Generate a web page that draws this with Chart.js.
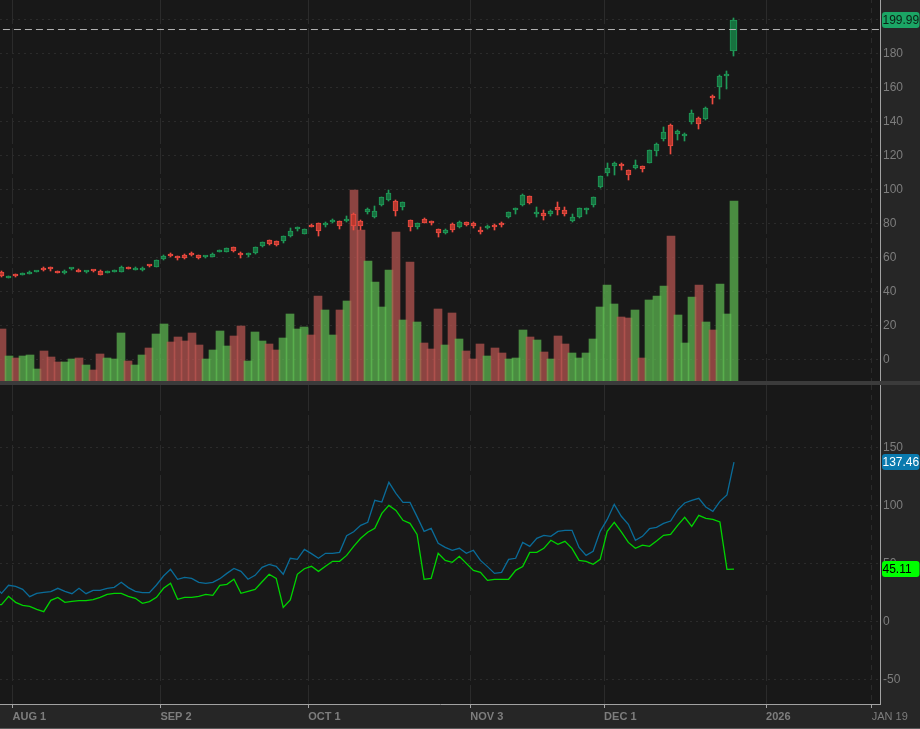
<!DOCTYPE html>
<html>
<head>
<meta charset="utf-8">
<title>Chart</title>
<style>
  html, body { margin: 0; padding: 0; background: #181818; overflow: hidden; }
  #wrap { position: relative; width: 920px; height: 729px; }
  canvas { position: absolute; left: 0; }
  #precio { top: 0; }
  #indicador { top: 385px; }
  .panel { position: absolute; background: #262626; }
  #panelDerecho { left: 880px; top: 0; width: 40px; height: 729px; }
  #panelFechas { left: 0; top: 705px; width: 920px; height: 23px; }
  #finFechas { position: absolute; left: 0; top: 728px; width: 920px; height: 1px; background: #5a5a5a; }
  #separador { position: absolute; left: 0; top: 381px; width: 920px; height: 4px; background: #3b3b3b; }
</style>
<script src="https://cdn.jsdelivr.net/npm/chart.js@4/dist/chart.umd.min.js"></script>
</head>
<body>
<div id="wrap">
  <div class="panel" id="panelDerecho"></div>
  <div class="panel" id="panelFechas"></div>
  <div id="finFechas"></div>
  <canvas id="precio" width="920" height="381"></canvas>
  <div id="separador"></div>
  <canvas id="indicador" width="920" height="344"></canvas>
</div>
<script>
// Sessions are counted from AUG 1 = 0. Candles and volume start two sessions earlier.
const primeraVela = -2;
const primeraLinea = -3;

const aperturas = [
  51.3,47.9,50.3,49.7,50.3,51.5,53.8,53.8,52.1,50.9,
  53.2,52.6,51.5,52.6,52.1,50.9,51.5,51.5,53.8,52.6,
  52.6,55.6,54.4,59.1,61.5,60.9,61.5,62.1,61.5,60.3,
  60.3,63.2,63.2,66.2,62.6,61.5,62.6,66.8,70.3,69.7,
  69.7,72.6,76.8,73.8,79.1,80.3,79.1,80.9,81.5,81.5,
  85.6,81.5,86.8,83.8,90.9,93.8,93.2,89.7,82.1,77.9,
  82.6,80.9,76.8,74.4,79.7,77.9,80.9,80.3,76.2,77.4,
  78.5,80.3,83.8,87.9,90.9,96.2,85.6,86.2,85.6,89.7,
  87.9,81.5,83.8,88.0,90.9,101.5,109.9,114.0,115.0,111.5,
  112.8,113.8,115.6,122.6,129.7,137.9,132.6,131.5,139.7,142.1,
  141.5,155.0,160.3,166.8,181.5
];
const maximos = [
  52.1,49.1,50.3,50.9,52.1,52.1,54.4,54.4,52.1,52.6,
  53.8,53.2,52.1,52.6,52.6,52.1,52.6,55.0,54.4,54.4,
  54.4,55.6,58.5,61.5,62.6,60.9,62.1,63.2,61.5,60.9,
  62.6,64.4,65.6,66.2,63.2,62.6,66.2,69.1,70.3,69.7,
  72.6,77.4,77.9,76.8,79.7,80.3,80.9,82.6,81.5,84.4,
  86.2,82.1,89.1,90.3,95.6,99.7,93.8,92.6,82.1,80.3,
  83.2,81.5,76.8,76.8,80.3,81.5,80.9,80.9,77.9,79.1,
  79.7,80.9,86.8,89.1,97.4,96.2,89.7,87.9,87.9,92.6,
  89.7,85.6,89.1,89.1,95.4,107.9,115.6,116.2,115.6,111.5,
  117.4,113.8,123.2,127.4,136.8,138.5,135.0,133.2,146.8,142.6,
  148.5,155.6,167.4,169.7,200.9
];
const minimos = [
  48.5,47.9,48.5,49.7,50.3,51.5,52.1,52.1,50.9,50.3,
  52.6,51.5,50.9,51.5,49.5,50.9,51.5,51.5,53.2,52.6,
  52.1,54.4,54.4,58.5,60.3,58.5,59.1,60.9,59.1,59.7,
  60.3,63.2,63.2,63.2,59.7,60.3,62.1,66.2,67.4,66.8,
  68.5,72.1,75.6,73.8,77.9,72.6,77.9,80.3,76.8,80.9,
  76.2,76.2,85.6,83.2,90.3,93.2,84.4,87.9,75.6,76.8,
  80.3,79.1,72.1,73.8,75.0,77.4,78.5,77.4,73.8,76.8,
  76.2,77.9,83.2,85.6,90.3,91.5,83.8,82.1,84.4,85.0,
  84.4,80.9,83.2,85.6,89.9,100.9,107.9,108.5,111.5,105.6,
  112.1,110.3,115.6,119.7,128.5,120.9,129.1,128.5,138.5,135.6,
  140.9,150.3,153.2,159.1,178.5
];
const cierres = [
  49.1,49.1,49.1,50.9,51.5,52.1,52.6,53.2,50.9,52.1,
  53.8,51.5,52.1,52.1,49.7,52.1,52.6,54.4,53.2,53.8,
  53.8,55.0,58.5,60.9,60.9,59.7,59.7,61.5,59.7,60.9,
  62.1,64.4,65.6,63.8,61.5,62.1,66.2,69.1,67.9,67.4,
  72.6,75.6,77.4,76.8,77.9,75.6,80.3,81.5,78.5,82.6,
  78.5,78.5,88.5,87.4,95.6,97.9,87.4,92.6,77.9,80.3,
  80.3,80.3,74.4,76.2,76.2,80.9,79.1,78.5,75.0,78.5,
  77.9,79.1,86.8,89.1,96.8,92.1,86.8,84.4,87.4,87.9,
  85.6,83.8,89.1,88.5,95.4,107.9,112.6,115.6,113.8,108.5,
  114.4,112.1,123.2,126.8,133.8,125.6,134.4,132.6,145.0,138.5,
  147.9,153.8,166.8,167.9,199.99
];
const volumenes = [
  26,12.5,11.5,12.5,13,6,15,12,9.5,9.5,
  11,11.5,8,5.5,13.5,11.5,11,24,10,8,
  13,16.5,23.5,28.5,19.5,22,20,24,18,11,
  15.5,25,17.5,22.5,27.5,10,24.5,20,18.5,15.5,
  21.5,33.5,26,27,23,42.5,35.5,23,35.5,40,
  95.5,75.5,60,49.5,37,55.5,74.5,30.5,59.5,29.5,
  19,16,36,18,34,21,15,11,18.5,12.5,
  16.5,14,11,11.5,25.5,22,20.5,14.5,11,22.5,
  18.5,14,11.5,14,21,37,48,38.5,32,31.5,
  35.5,11.5,40.5,42.5,47.5,72.5,33,19,42,48,
  29.5,25.5,48.5,33.5,90
];
const lineaAzul = [
  31,24.3,31.2,30.3,27.7,21.4,24.3,25.1,25.7,28.6,26.0,
  24.0,28.6,24.0,26.9,26.9,28.6,29.5,33.8,29.2,26.0,
  24.9,24.9,31.5,39.2,45.0,36.4,38.1,37.2,33.8,32.9,
  33.8,36.9,41.5,45.8,43.2,36.4,39.8,46.7,49.3,47.6,
  40.7,54.5,53.6,62.2,58.5,54.5,58.8,58.8,59.6,74.0,
  77.4,82.9,85.5,104.5,103.0,120.0,110.5,102.7,102.7,90.4,
  77.7,80.3,67.4,63.9,61.4,63.1,58.8,61.4,52.7,47.3,
  41.5,42.4,53.6,54.5,68.2,64.8,71.7,74.3,73.4,77.7,
  78.6,78.6,63.9,57.0,60.5,77.7,88.0,101.0,90.7,83.8,
  70.0,73.4,80.0,81.2,84.6,86.6,96.1,102.2,104.5,106.2,
  98.7,95.0,103.6,109.1,137.46
];
const lineaVerde = [
  14.5,14.5,21.7,16.5,13.9,13.1,10.5,8.5,18.2,20.8,16.5,
  17.4,18.0,18.0,18.8,20.8,23.4,24.3,24.3,21.7,20.0,
  15.7,17.1,20.8,28.6,32.9,19.1,20.8,20.8,21.7,23.4,
  22.6,31.2,32.0,36.4,24.3,26.0,27.7,34.3,40.7,37.2,
  12.2,18.5,40.7,45.5,47.6,43.2,47.6,51.9,51.9,57.0,
  64.8,71.7,76.9,80.3,93.2,100.1,95.8,87.2,84.6,75.1,
  36.4,37.2,58.8,52.7,51.0,56.2,50.1,44.1,42.4,35.5,
  36.4,36.4,36.4,44.1,47.3,59.6,59.6,63.1,70.0,66.5,
  69.1,63.1,52.7,51.9,49.3,53.6,77.7,85.5,77.2,68.2,
  63.1,65.9,64.8,69.4,74.3,75.1,82.9,89.8,82.0,91.5,
  88.9,88.1,85.8,45.0,45.11
];
const nivelPunteado = 194.1;

const sesionesFecha = [0, 21, 42, 65, 84, 107, 122];
const etiquetasFecha = ['AUG 1', 'SEP 2', 'OCT 1', 'NOV 3', 'DEC 1', '2026', 'JAN 19'];
const ticksPrecio = [0, 20, 40, 60, 80, 100, 120, 140, 160, 180, 200];
const ticksIndicador = [-50, 0, 50, 100, 150];

const fuente = 'Liberation Sans, Arial, sans-serif';
const colorGrid = '#2b2b2b';
const colorTexto = '#7d7d7d';
const colorEje = '#a2a2a2';

// ticks sit at the left edge of the session's slot
const medioSlot = 0.44;
const rangoX = { min: -2.215, max: 122.73 };

const subeVela = aperturas.map((a, i) => cierres[i] >= a);
const sesion = i => primeraVela + i;

// price tags over the right axis
const etiquetasPrecio = {
  id: 'etiquetasPrecio',
  afterDraw(chart, args, opts) {
    const ctx = chart.ctx;
    const escala = chart.scales.y;
    opts.lista.forEach(t => {
      const y = escala.getPixelForValue(t.valor);
      ctx.save();
      ctx.fillStyle = t.fondo;
      ctx.beginPath();
      ctx.roundRect(882, Math.round(y) - 8, 37.5, 16, 3);
      ctx.fill();
      ctx.fillStyle = t.texto;
      ctx.font = '12px ' + fuente;
      ctx.textBaseline = 'middle';
      ctx.textAlign = 'left';
      ctx.fillText(t.valor.toFixed(2), 882.5, Math.round(y) + 1);
      ctx.restore();
    });
  }
};

// keep candles and volume on whole pixels so their edges stay sharp
const ajustePixel = {
  id: 'ajustePixel',
  beforeDatasetsDraw(chart) {
    chart.getSortedVisibleDatasetMetas().forEach(meta => {
      if (meta.type !== 'bar') return;
      const esVolumen = meta.yAxisID === 'yVol';
      meta.data.forEach(el => {
        el.x = esVolumen ? Math.round(el.x) : Math.floor(el.x) + 0.5;
        el.y = Math.round(el.y);
        el.base = Math.round(el.base);
      });
      // the session still open is drawn wider
      if (meta.controller.getDataset().cuerpos) meta.data[meta.data.length - 1].width = 7;
    });
  }
};

function ejeX(conFechas) {
  return {
    type: 'linear',
    min: rangoX.min,
    max: rangoX.max,
    offset: false,
    afterBuildTicks: s => { s.ticks = sesionesFecha.map(v => ({ value: v - medioSlot })); },
    afterFit: s => {
      s.height = conFechas ? 25 : 0;
      s.paddingLeft = 0;
      s.paddingRight = 0;
    },
    border: {
      display: conFechas,
      color: colorEje,
      // last one is the expansion line, short dashes
      dash: c => (c.index === 6 ? [5, 5] : [26, 4]),
      dashOffset: conFechas ? 0 : 2
    },
    grid: {
      offset: false,
      color: colorGrid,
      drawTicks: conFechas,
      tickLength: 4,
      tickColor: colorEje
    },
    ticks: {
      display: conFechas,
      autoSkip: false,
      maxRotation: 0,
      minRotation: 0,
      align: 'start',
      padding: 2,
      color: colorTexto,
      font: c => ({ family: fuente, size: 11, weight: c.index === 6 ? 'normal' : 'bold' }),
      callback: (v, i) => etiquetasFecha[i]
    }
  };
}

function ejeY(rango, valores) {
  return {
    position: 'right',
    min: rango[0],
    max: rango[1],
    afterBuildTicks: s => { s.ticks = valores.map(v => ({ value: v })); },
    afterFit: s => {
      s.width = 40;
      s.paddingTop = 0;
      s.paddingBottom = 0;
    },
    border: { color: colorEje, dash: [2, 4] },
    grid: { color: colorGrid, drawTicks: false },
    ticks: {
      padding: 3,
      color: colorTexto,
      font: { family: fuente, size: 12 }
    }
  };
}

const opcionesBase = {
  responsive: false,
  animation: false,
  devicePixelRatio: 1,
  layout: { padding: 0, autoPadding: false },
  plugins: { legend: { display: false }, tooltip: { enabled: false } }
};

new Chart(document.getElementById('precio'), {
  type: 'bar',
  data: {
    datasets: [
      {
        type: 'line',
        order: 0,
        data: [{ x: -1.8, y: nivelPunteado }, { x: rangoX.max, y: nivelPunteado }],
        borderColor: '#b4b4b4',
        borderWidth: 1,
        borderDash: [7, 4],
        pointRadius: 0
      },
      {
        cuerpos: true,
        order: 1,
        grouped: false,
        data: aperturas.map((a, i) => ({ x: sesion(i), y: [Math.min(a, cierres[i]), Math.max(a, cierres[i])] })),
        barThickness: 5,
        minBarLength: 2,
        borderWidth: 1,
        borderSkipped: false,
        backgroundColor: subeVela.map(s => (s ? '#17713f' : '#b8392f')),
        borderColor: subeVela.map(s => (s ? '#1f9a58' : '#ee4b40'))
      },
      {
        order: 2,
        grouped: false,
        data: maximos.map((m, i) => ({ x: sesion(i), y: [minimos[i], m] })),
        barThickness: 1,
        backgroundColor: subeVela.map(s => (s ? '#1f9a58' : '#ee4b40'))
      },
      {
        order: 3,
        grouped: false,
        yAxisID: 'yVol',
        data: volumenes.map((v, i) => ({ x: sesion(i), y: v })),
        barThickness: 8,
        backgroundColor: subeVela.map(s => (s ? 'rgba(95,190,82,0.7)' : 'rgba(190,87,83,0.7)'))
      }
    ]
  },
  options: Object.assign({}, opcionesBase, {
    scales: {
      x: ejeX(false),
      y: ejeY([-12.65, 211.47], ticksPrecio),
      yVol: { display: false, min: 0, max: 190.5 }
    },
    plugins: Object.assign({}, opcionesBase.plugins, {
      etiquetasPrecio: { lista: [{ valor: 199.99, fondo: '#1ba565', texto: '#0c1f14' }] }
    })
  }),
  plugins: [ajustePixel, etiquetasPrecio]
});

new Chart(document.getElementById('indicador'), {
  type: 'line',
  data: {
    datasets: [
      {
        data: lineaVerde.map((v, i) => ({ x: primeraLinea + i, y: v })),
        borderColor: '#00d400',
        borderWidth: 1.3,
        pointRadius: 0,
        tension: 0
      },
      {
        data: lineaAzul.map((v, i) => ({ x: primeraLinea + i, y: v })),
        borderColor: '#0a6c99',
        borderWidth: 1.3,
        pointRadius: 0,
        tension: 0
      }
    ]
  },
  options: Object.assign({}, opcionesBase, {
    scales: {
      x: ejeX(true),
      y: ejeY([-71.12, 203.88], ticksIndicador)
    },
    plugins: Object.assign({}, opcionesBase.plugins, {
      etiquetasPrecio: {
        lista: [
          { valor: 137.46, fondo: '#0a7aae', texto: '#ffffff' },
          { valor: 45.11, fondo: '#00ff00', texto: '#000000' }
        ]
      }
    })
  }),
  plugins: [etiquetasPrecio]
});
</script>
</body>
</html>
